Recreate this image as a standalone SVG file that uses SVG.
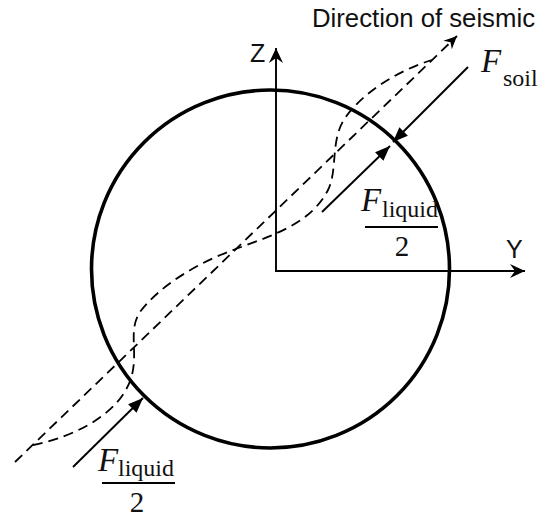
<svg xmlns="http://www.w3.org/2000/svg" width="549" height="517" viewBox="0 0 549 517">
<style>
.lbl{font-family:"Liberation Sans",Arial,sans-serif;font-size:25px;fill:#111}
.math{font-family:"Liberation Serif","Times New Roman",serif;fill:#111}
.F{font-style:italic;font-size:33px}
.sub{font-size:24px}
.num{font-size:29px}
.axis{stroke:#000;stroke-width:1.9;fill:none}
.dash{stroke:#000;stroke-width:1.8;fill:none;stroke-dasharray:10 6}
.force{stroke:#000;stroke-width:1.9;fill:none}
.bar{stroke:#000;stroke-width:2}
</style>
<defs>
<marker id="stealth" viewBox="-16 -8 17 16" refX="0" refY="0" markerWidth="17" markerHeight="16" markerUnits="userSpaceOnUse" orient="auto">
<path d="M0,0 L-15,-7 L-10,0 L-15,7 Z" fill="#000"/>
</marker>
<marker id="stealthS" viewBox="-14 -7 15 14" refX="0" refY="0" markerWidth="15" markerHeight="14" markerUnits="userSpaceOnUse" orient="auto">
<path d="M0,0 L-13,-6 L-9,0 L-13,6 Z" fill="#000"/>
</marker>
<marker id="tri" viewBox="-16 -7 17 14" refX="0" refY="0" markerWidth="17" markerHeight="14" markerUnits="userSpaceOnUse" orient="auto">
<path d="M0,0 L-15,-6 L-15,6 Z" fill="#000"/>
</marker>
</defs>

<g id="pipe">
<circle cx="270.5" cy="269" r="179" fill="none" stroke="#000" stroke-width="3.6"/>
</g>

<g id="connectors">
<line id="z-axis" class="axis" x1="276" y1="271" x2="276" y2="48" marker-end="url(#stealth)"/>
<line id="y-axis" class="axis" x1="275" y1="271" x2="525" y2="271" marker-end="url(#stealth)"/>
<line id="seismic-dir" class="dash" x1="15" y1="462" x2="457" y2="36" marker-end="url(#stealthS)"/>
<path id="seismic-wave" class="dash" d="M33,445 C60,440 120,420 132,375 C138,350 128,330 140,312 C160,285 200,262 233,250 C270,236 310,225 328,190 C338,170 330,140 345,118 C365,90 400,70 432,60"/>
<line id="f-soil" class="force" x1="468" y1="67" x2="393" y2="142" marker-end="url(#tri)"/>
<line id="f-liquid-top" class="force" x1="322" y1="212" x2="390" y2="146" marker-end="url(#tri)"/>
<line id="f-liquid-bottom" class="force" x1="73" y1="467" x2="143" y2="398" marker-end="url(#tri)"/>
</g>

<g id="label-direction">
<text class="lbl" x="312" y="27" textLength="223" lengthAdjust="spacingAndGlyphs">Direction of seismic</text>
</g>
<g id="label-z">
<text class="lbl" x="250" y="62">Z</text>
</g>
<g id="label-y">
<text class="lbl" x="506" y="258">Y</text>
</g>
<g id="label-fsoil">
<text class="math F" x="481" y="72">F</text>
<text class="math sub" x="503" y="86">soil</text>
</g>
<g id="label-fliquid-top">
<text class="math F" x="361" y="211">F</text>
<text class="math sub" x="382" y="217">liquid</text>
<line class="bar" x1="365" y1="227" x2="438" y2="227"/>
<text class="math num" x="402" y="256" text-anchor="middle">2</text>
</g>
<g id="label-fliquid-bottom">
<text class="math F" x="98" y="471">F</text>
<text class="math sub" x="118" y="476">liquid</text>
<line class="bar" x1="102" y1="483" x2="175" y2="483"/>
<text class="math num" x="137" y="512" text-anchor="middle">2</text>
</g>
</svg>
